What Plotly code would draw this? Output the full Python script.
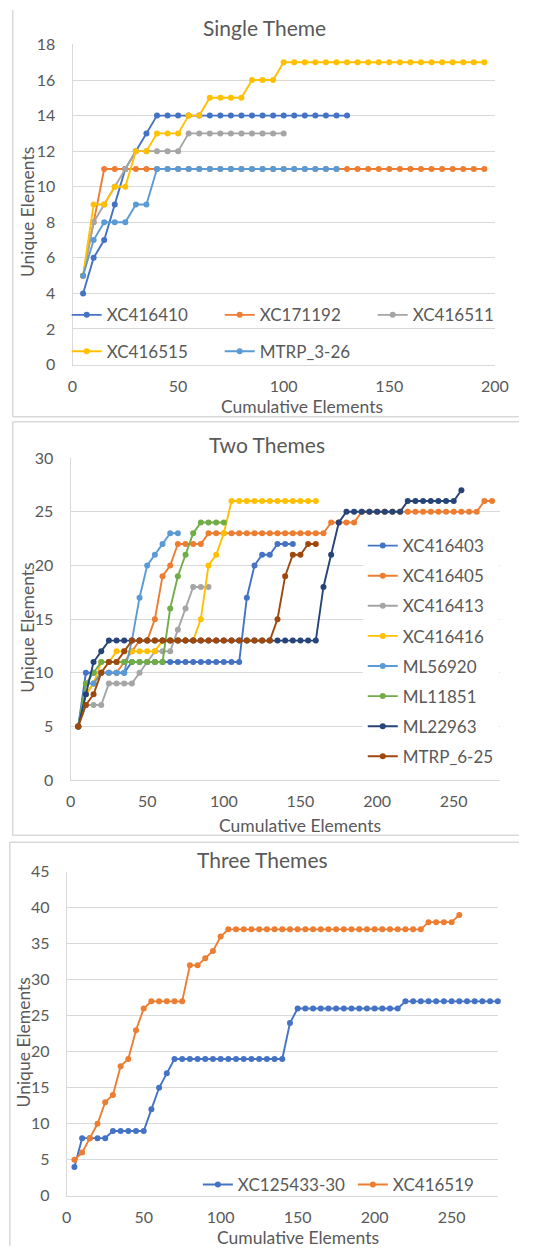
import plotly.graph_objects as go

W, H = 533, 1255
def fx(p): return p / W
def fy(p): return 1 - p / H

STEP = 5  # markers are placed every 5 cumulative elements

# ---------------- Panel 1: Single Theme ----------------
p1_names = ["XC416410", "XC171192", "XC416511", "XC416515", "MTRP_3-26"]
p1_XC416410 = [4, 6, 7, 9, 11, 12, 13, 14, 14, 14, 14, 14, 14, 14, 14, 14, 14, 14, 14, 14,
               14, 14, 14, 14, 14, 14]
p1_XC171192 = [5, 8, 11, 11, 11, 11, 11, 11, 11, 11, 11, 11, 11, 11, 11, 11, 11, 11, 11, 11,
               11, 11, 11, 11, 11, 11, 11, 11, 11, 11, 11, 11, 11, 11, 11, 11, 11, 11, 11]
p1_XC416511 = [5, 8, 9, 10, 11, 12, 12, 12, 12, 12, 13, 13, 13, 13, 13, 13, 13, 13, 13, 13]
p1_XC416515 = [5, 9, 9, 10, 10, 12, 12, 13, 13, 13, 14, 14, 15, 15, 15, 15, 16, 16, 16, 17,
               17, 17, 17, 17, 17, 17, 17, 17, 17, 17, 17, 17, 17, 17, 17, 17, 17, 17, 17]
p1_MTRP_3_26 = [5, 7, 8, 8, 8, 9, 9, 11, 11, 11, 11, 11, 11, 11, 11, 11, 11, 11, 11, 11,
                11, 11, 11, 11, 11]
p1_values = [p1_XC416410, p1_XC171192, p1_XC416511, p1_XC416515, p1_MTRP_3_26]
p1_colors = ["#4472C4", "#ED7D31", "#A5A5A5", "#FFC000", "#5B9BD5"]
p1_xticks = [0, 50, 100, 150, 200]
p1_yticks = [0, 2, 4, 6, 8, 10, 12, 14, 16, 18]

# ---------------- Panel 2: Two Themes ----------------
p2_names = ["XC416403", "XC416405", "XC416413", "XC416416",
            "ML56920", "ML11851", "ML22963", "MTRP_6-25"]
p2_XC416403 = [5, 10, 10, 10, 10, 10, 10, 11, 11, 11, 11, 11, 11, 11, 11, 11, 11, 11, 11, 11,
               11, 11, 17, 20, 21, 21, 22, 22, 22]
p2_XC416405 = [5, 8, 9, 10, 10, 10, 11, 12, 13, 13, 15, 19, 20, 22, 22, 22, 22, 23, 23, 23,
               23, 23, 23, 23, 23, 23, 23, 23, 23, 23, 23, 23, 23, 24, 24, 24, 24, 25, 25, 25,
               25, 25, 25, 25, 25, 25, 25, 25, 25, 25, 25, 25, 25, 26, 26]
p2_XC416413 = [5, 7, 7, 7, 9, 9, 9, 9, 10, 11, 12, 12, 12, 14, 16, 18, 18, 18]
p2_XC416416 = [5, 8, 9, 11, 11, 12, 12, 12, 12, 12, 12, 13, 13, 13, 13, 13, 15, 20, 21, 23,
               26, 26, 26, 26, 26, 26, 26, 26, 26, 26, 26, 26]
p2_ML56920 = [5, 9, 9, 10, 10, 10, 10, 13, 17, 20, 21, 22, 23, 23]
p2_ML11851 = [5, 9, 10, 11, 11, 11, 11, 11, 11, 11, 11, 11, 16, 19, 21, 23, 24, 24, 24, 24]
p2_ML22963 = [5, 8, 11, 12, 13, 13, 13, 13, 13, 13, 13, 13, 13, 13, 13, 13, 13, 13, 13, 13,
              13, 13, 13, 13, 13, 13, 13, 13, 13, 13, 13, 13, 18, 21, 24, 25, 25, 25, 25, 25,
              25, 25, 25, 26, 26, 26, 26, 26, 26, 26, 27]
p2_MTRP_6_25 = [5, 7, 8, 10, 11, 11, 12, 13, 13, 13, 13, 13, 13, 13, 13, 13, 13, 13, 13, 13,
                13, 13, 13, 13, 13, 13, 15, 19, 21, 21, 22, 22]
p2_values = [p2_XC416403, p2_XC416405, p2_XC416413, p2_XC416416,
             p2_ML56920, p2_ML11851, p2_ML22963, p2_MTRP_6_25]
p2_colors = ["#4472C4", "#ED7D31", "#A5A5A5", "#FFC000",
             "#5B9BD5", "#70AD47", "#264478", "#9E480E"]
p2_xticks = [0, 50, 100, 150, 200, 250]
p2_yticks = [0, 5, 10, 15, 20, 25, 30]

# ---------------- Panel 3: Three Themes ----------------
p3_names = ["XC125433-30", "XC416519"]
p3_XC125433_30 = [4, 8, 8, 8, 8, 9, 9, 9, 9, 9, 12, 15, 17, 19, 19, 19, 19, 19, 19, 19,
                  19, 19, 19, 19, 19, 19, 19, 19, 24, 26, 26, 26, 26, 26, 26, 26, 26, 26, 26,
                  26, 26, 26, 26, 27, 27, 27, 27, 27, 27, 27, 27, 27, 27, 27, 27, 27]
p3_XC416519 = [5, 6, 8, 10, 13, 14, 18, 19, 23, 26, 27, 27, 27, 27, 27, 32, 32, 33, 34, 36,
               37, 37, 37, 37, 37, 37, 37, 37, 37, 37, 37, 37, 37, 37, 37, 37, 37, 37, 37, 37,
               37, 37, 37, 37, 37, 37, 38, 38, 38, 38, 39]
p3_values = [p3_XC125433_30, p3_XC416519]
p3_colors = ["#4472C4", "#ED7D31"]
p3_xticks = [0, 50, 100, 150, 200, 250]
p3_yticks = [0, 5, 10, 15, 20, 25, 30, 35, 40, 45]

FONT = "Lato"
TXT = "#595959"
GRID = "#D9D9D9"

fig = go.Figure()

def add_series(names, values, colors, xa, ya, legends):
    for i, (n, v, c) in enumerate(zip(names, values, colors)):
        xs = [STEP * (k + 1) for k in range(len(v))]
        fig.add_trace(go.Scatter(
            x=xs, y=v, name=n, mode="lines+markers",
            line=dict(color=c, width=1.9),
            marker=dict(color=c, size=6),
            xaxis=xa, yaxis=ya, legend=legends[i], legendgroup=n,
            cliponaxis=False,
        ))

add_series(p1_names, p1_values, p1_colors, "x", "y",
           ["legend", "legend", "legend", "legend2", "legend2"])
add_series(p2_names, p2_values, p2_colors, "x2", "y2", ["legend3"] * 8)
add_series(p3_names, p3_values, p3_colors, "x3", "y3", ["legend4"] * 2)

tickfont = dict(family=FONT, size=16, color=TXT)

def xax(dom, rng, ticks, anchor):
    return dict(domain=dom, range=rng, tickvals=ticks, anchor=anchor,
                showgrid=False, zeroline=False, showline=True, linecolor=GRID,
                linewidth=1, ticks="", tickfont=tickfont, ticklabelstandoff=7,
                fixedrange=True)

def yax(dom, rng, ticks, anchor):
    return dict(domain=dom, range=rng, tickvals=ticks, anchor=anchor,
                showgrid=True, gridcolor=GRID, gridwidth=1, zeroline=False,
                showline=True, linecolor=GRID, linewidth=1, ticks="",
                tickfont=tickfont, ticklabelstandoff=13, fixedrange=True)

legfont = dict(family=FONT, size=17, color=TXT)

def hleg(x, y, ew):
    return dict(x=x, y=y, xanchor="left", yanchor="middle", orientation="h",
                font=legfont, bgcolor="rgba(0,0,0,0)", entrywidth=ew,
                entrywidthmode="pixels", itemclick=False, itemdoubleclick=False)

fig.update_layout(
    width=W, height=H, autosize=False, margin=dict(l=0, r=0, t=0, b=0),
    paper_bgcolor="white", plot_bgcolor="white",
    font=dict(family=FONT, color=TXT),
    xaxis=xax([fx(70), fx(508)], [0, 200], p1_xticks, "y"),
    yaxis=yax([fy(360), fy(35)], [0, 18], p1_yticks, "x"),
    xaxis2=xax([fx(68), fx(513)], [0, 280], p2_xticks, "y2"),
    yaxis2=yax([fy(782), fy(455)], [0, 30], p2_yticks, "x2"),
    xaxis3=xax([fx(64), fx(511)], [0, 280], p3_xticks, "y3"),
    yaxis3=yax([fy(1204), fy(875)], [0, 45], p3_yticks, "x3"),
    legend=hleg(fx(64), fy(310), 108),
    legend2=hleg(fx(64), fy(347), 108),
    legend3=dict(x=fx(371), y=fy(526), xanchor="left", yanchor="top",
                 orientation="v", font=legfont, bgcolor="white",
                 tracegroupgap=5, itemclick=False, itemdoubleclick=False),
    legend4=hleg(fx(200), fy(1193), 110),
    showlegend=True,
)

ann = []
def text(x, y, s, size, angle=0):
    ann.append(dict(x=fx(x), y=fy(y), xref="paper", yref="paper", text=s,
                    showarrow=False, xanchor="center", yanchor="middle",
                    textangle=angle, font=dict(family=FONT, size=size, color=TXT)))

text(269, 18, "Single Theme", 21)
text(272, 441, "Two Themes", 21)
text(267, 863, "Three Themes", 21)
text(308, 403, "Cumulative Elements", 17.5)
text(306, 828, "Cumulative Elements", 17.5)
text(304, 1246, "Cumulative Elements", 17.5)
text(24, 205, "Unique Elements", 17.5, -90)
text(23, 627, "Unique Elements", 17.5, -90)
text(19, 1048, "Unique Elements", 17.5, -90)
fig.update_layout(annotations=ann)

# chart-area borders, kept strictly inside the page (left/top/bottom edges only)
border_lines = [
    (8, 0, 8, 413), (8, 413, 533, 413),                     # panel 1
    (8, 418, 533, 418), (8, 418, 8, 838), (8, 838, 533, 838),  # panel 2
    (5, 845, 533, 845), (5, 845, 5, 1255),                  # panel 3
]
shapes = []
for (x0, y0, x1, y1) in border_lines:
    shapes.append(dict(type="line", xref="paper", yref="paper",
                       x0=fx(x0), x1=fx(x1), y0=fy(y0), y1=fy(y1),
                       line=dict(color=GRID, width=1.5), layer="below"))
fig.update_layout(shapes=shapes)

# pin the figure to the window's top-left corner so that the page itself never overflows
post = ("var gd=document.getElementById('{plot_id}');"
        "document.documentElement.style.margin='0';"
        "document.body.style.margin='0';"
        "document.documentElement.style.overflow='hidden';"
        "document.body.style.overflow='hidden';"
        "gd.style.position='fixed';gd.style.left='0px';gd.style.top='0px';"
        "gd.style.width='533px';gd.style.height='1255px';"
        "Plotly.relayout(gd,{width:533,height:1255,autosize:false});")

fig.write_html("out.html", config={"displayModeBar": False, "responsive": False},
               post_script=post)
